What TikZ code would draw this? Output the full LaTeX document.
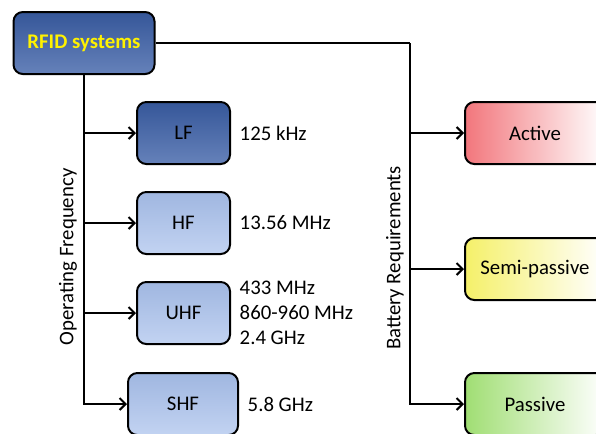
\documentclass[tikz,border=0pt]{standalone}
\usepackage{fontspec}
\setmainfont{Carlito}
\usepackage{xcolor}
\usetikzlibrary{positioning,arrows.meta}

\definecolor{deepblue}{RGB}{58,94,166}
\definecolor{paleblue}{RGB}{168,192,236}
\definecolor{activered}{RGB}{242,118,124}
\definecolor{semiyellow}{RGB}{245,240,105}
\definecolor{passgreen}{RGB}{160,222,115}

\tikzset{
  box/.style={draw=black, line width=1.5pt, rounded corners=7pt, minimum height=46.5pt,
    font=\fontsize{15.6}{18.75}\selectfont},
  darkbox/.style={box, top color=deepblue!92!black, middle color=deepblue, bottom color=deepblue!78!white},
  lightbox/.style={box, top color=paleblue!95!black, middle color=paleblue, bottom color=paleblue!70!white},
  kindbox/.style={box, minimum width=105pt, left color=#1, right color=white},
  wire/.style={line width=1.5pt},
  link/.style={wire, -{Straight Barb[length=4.5pt,width=9pt]}},
  value/.style={font=\fontsize{15.6}{18.75}\selectfont, align=left}
}

\begin{document}
\begin{tikzpicture}[x=0.75pt,y=-0.75pt]
\useasboundingbox (0,0) rectangle (596,433);
\clip (0,0) rectangle (596,433);

% root
\node[darkbox, minimum width=105.75pt, text=yellow, font=\fontsize{15.6}{18.75}\selectfont\bfseries] (rfid) at (84,43) {RFID systems};

% frequency branch
\node[darkbox, minimum width=69.75pt] (lf) at (183.5,133) {LF};
\node[lightbox, minimum width=69.75pt] (hf) at (183.5,223) {HF};
\node[lightbox, minimum width=69.75pt] (uhf) at (183.5,313) {UHF};
\node[lightbox, minimum width=82.5pt] (shf) at (183,404) {SHF};

\node[value, right=3pt of lf] (lfval) {125 kHz};
\node[value, right=3pt of hf] (hfval) {13.56 MHz};
\node[value, right=3pt of uhf] (uhfval) {433 MHz\\860-960 MHz\\2.4 GHz};
\node[value, right=3pt of shf] (shfval) {5.8 GHz};

\draw[link] (rfid.south) |- (lf.west);
\draw[link] (rfid.south) |- (hf.west);
\draw[link] (rfid.south) |- (uhf.west);
\draw[link] (rfid.south) |- (shf.west);
\node[value, rotate=90] (opfreq) at (68,257) {Operating Frequency};

% battery branch
\node[kindbox=activered] (active) at (535,133) {Active};
\node[kindbox=semiyellow] (semi) at (535,269) {Semi-passive};
\node[kindbox=passgreen] (passive) at (535,404) {Passive};

\coordinate (bat) at (410,43);
\draw[wire] (rfid.east) -- (bat);
\draw[link] (bat) |- (active.west);
\draw[link] (bat) |- (semi.west);
\draw[link] (bat) |- (passive.west);
\node[value, rotate=90] (battery) at (395,258) {Battery Requirements};
\end{tikzpicture}
\end{document}
